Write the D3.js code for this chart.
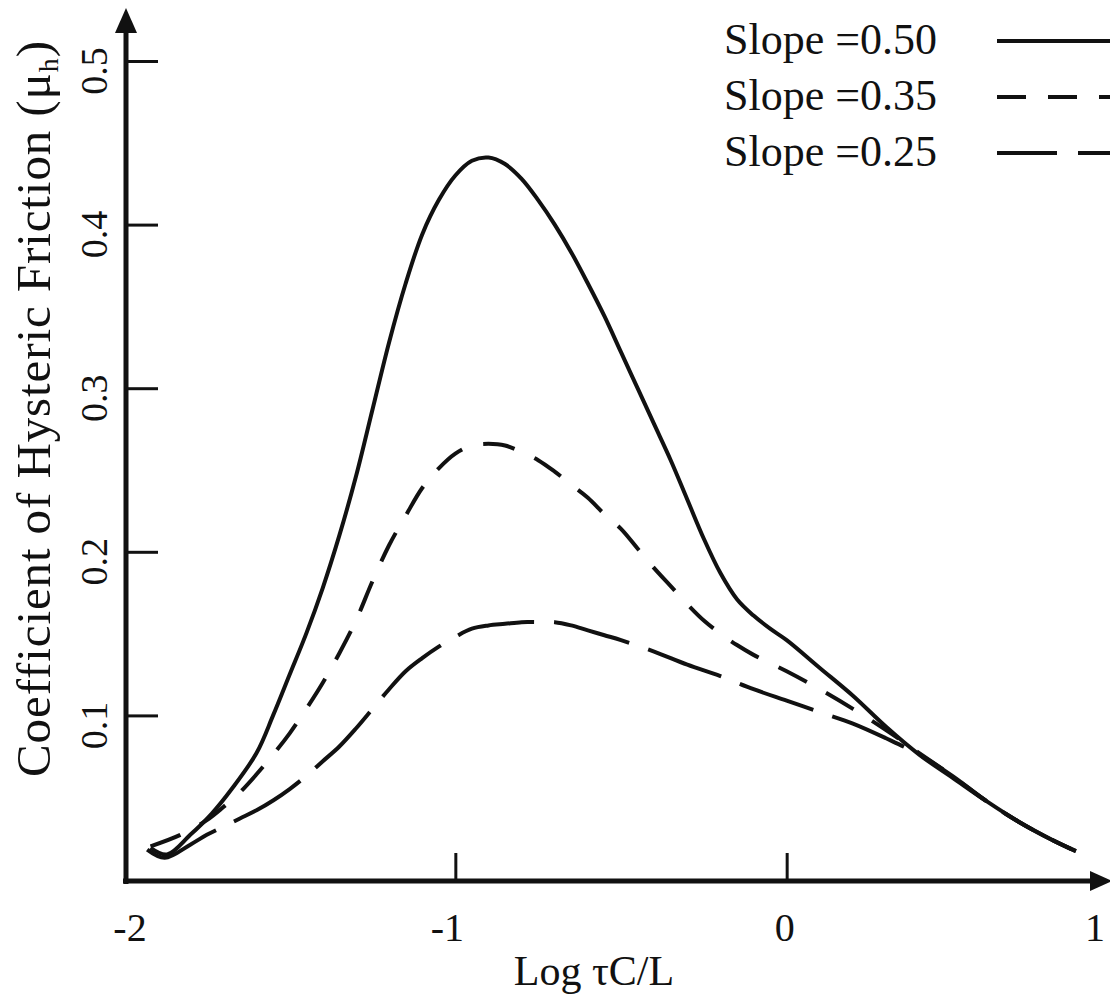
<!DOCTYPE html>
<html>
<head>
<meta charset="utf-8">
<script src="https://cdn.jsdelivr.net/npm/d3@7"></script>
<style>
  html, body { margin: 0; padding: 0; background: #fff; }
  svg { display: block; font-family: "Liberation Serif", "Times New Roman", serif; }
</style>
</head>
<body>
<svg id="chart" width="1110" height="996"></svg>
<script>
// values
const seriesNames = ["Slope =0.50", "Slope =0.35", "Slope =0.25"]

const solidX = [-1.92, -1.87, -1.80, -1.735, -1.675, -1.60, -1.55, -1.50, -1.45, -1.40, -1.35, -1.30, -1.25, -1.20, -1.15, -1.10, -1.05, -1.00, -0.95, -0.90, -0.85, -0.80, -0.75, -0.70, -0.65, -0.60, -0.55, -0.50, -0.45, -0.40, -0.35, -0.30, -0.25, -0.20, -0.15, -0.10, -0.05, 0.0, 0.1, 0.2, 0.3, 0.4, 0.5, 0.6, 0.7, 0.8, 0.873]
const solidY = [0.019, 0.015, 0.027, 0.040, 0.055, 0.077, 0.100, 0.125, 0.150, 0.178, 0.210, 0.246, 0.287, 0.328, 0.364, 0.394, 0.415, 0.430, 0.439, 0.441, 0.437, 0.428, 0.415, 0.400, 0.383, 0.364, 0.344, 0.322, 0.300, 0.278, 0.256, 0.232, 0.208, 0.187, 0.171, 0.161, 0.153, 0.146, 0.129, 0.112, 0.093, 0.076, 0.062, 0.048, 0.035, 0.024, 0.017]

const dashX = [-1.92, -1.83, -1.75, -1.70, -1.65, -1.60, -1.55, -1.50, -1.45, -1.40, -1.35, -1.30, -1.25, -1.20, -1.15, -1.10, -1.05, -1.00, -0.95, -0.90, -0.85, -0.80, -0.75, -0.70, -0.65, -0.60, -0.55, -0.50, -0.45, -0.40, -0.35, -0.30, -0.25, -0.20, -0.15, -0.10, 0.0, 0.1, 0.2, 0.3, 0.4, 0.5, 0.6, 0.7, 0.8, 0.873]
const dashY = [0.020, 0.027, 0.036, 0.044, 0.053, 0.064, 0.076, 0.089, 0.104, 0.120, 0.138, 0.158, 0.182, 0.204, 0.222, 0.239, 0.251, 0.260, 0.265, 0.266, 0.265, 0.261, 0.256, 0.249, 0.241, 0.233, 0.223, 0.214, 0.202, 0.190, 0.179, 0.168, 0.158, 0.150, 0.143, 0.137, 0.127, 0.116, 0.104, 0.091, 0.077, 0.063, 0.048, 0.035, 0.024, 0.017]

const longX = [-1.93, -1.877, -1.80, -1.75, -1.70, -1.65, -1.60, -1.55, -1.50, -1.45, -1.40, -1.35, -1.30, -1.25, -1.20, -1.15, -1.10, -1.05, -1.00, -0.95, -0.90, -0.85, -0.80, -0.75, -0.70, -0.65, -0.60, -0.55, -0.50, -0.40, -0.30, -0.20, -0.10, 0.0, 0.1, 0.2, 0.3, 0.4, 0.5, 0.6, 0.7, 0.8, 0.873]
const longY = [0.018, 0.013, 0.021, 0.027, 0.032, 0.037, 0.042, 0.048, 0.055, 0.063, 0.072, 0.081, 0.092, 0.104, 0.116, 0.127, 0.135, 0.142, 0.148, 0.153, 0.155, 0.156, 0.157, 0.157, 0.157, 0.155, 0.152, 0.149, 0.146, 0.139, 0.131, 0.124, 0.116, 0.109, 0.102, 0.095, 0.086, 0.076, 0.063, 0.048, 0.035, 0.024, 0.017]

const xTicks = [-2, -1, 0, 1]
const yTicks = [0.1, 0.2, 0.3, 0.4, 0.5]

const width = 1110, height = 996
const svg = d3.select("#chart")

const xScale = d3.scaleLinear().domain([-2, 1]).range([124, 1118])
const yScale = d3.scaleLinear().domain([0, 0.5]).range([879, 61])

const ink = "#111"
const axisY = 881   // x axis line
const axisX = 126   // y axis line

// axes lines with arrows
svg.append("line")
   .attr("x1", axisX).attr("y1", axisY + 3)
   .attr("x2", axisX).attr("y2", 28)
   .attr("stroke", ink).attr("stroke-width", 5)
svg.append("path")
   .attr("d", `M${axisX},8 L${axisX - 11},33 L${axisX + 11},33 Z`)
   .attr("fill", ink)
svg.append("line")
   .attr("x1", axisX - 3).attr("y1", axisY)
   .attr("x2", 1094).attr("y2", axisY)
   .attr("stroke", ink).attr("stroke-width", 5)
svg.append("path")
   .attr("d", `M1112,${axisY} L1090,${axisY - 10} L1090,${axisY + 10} Z`)
   .attr("fill", ink)

// y ticks pointing inwards
const yAxis = d3.axisRight(yScale).tickValues(yTicks).tickSize(32).tickFormat("")
const yAxisSVG = svg.append("g")
   .attr("transform", `translate(${axisX}, 0)`)
   .call(yAxis)
yAxisSVG.select(".domain").remove()
yAxisSVG.selectAll(".tick line").attr("stroke", ink).attr("stroke-width", 3)

// x ticks pointing up (only inner ones)
const xAxis = d3.axisTop(xScale).tickValues(xTicks.slice(1, -1)).tickSize(28).tickFormat("")
const xAxisSVG = svg.append("g")
   .attr("transform", `translate(0, ${axisY})`)
   .call(xAxis)
xAxisSVG.select(".domain").remove()
xAxisSVG.selectAll(".tick line").attr("stroke", ink).attr("stroke-width", 3)

// tick labels
svg.append("g").selectAll("text")
   .data(yTicks)
   .join("text")
   .attr("transform", d => `translate(107, ${yScale(d) + 10}) rotate(-90)`)
   .attr("text-anchor", "middle")
   .attr("font-size", 38)
   .attr("fill", ink)
   .text(d => d3.format(".1f")(d))

// small nudges so labels sit like the original (last one pulled in from the edge)
const xLabelShift = [6, -8, -2, 0]
svg.append("g").selectAll("text")
   .data(xTicks)
   .join("text")
   .attr("x", (d, i) => Math.min(xScale(d) + xLabelShift[i], 1095))
   .attr("y", 941)
   .attr("text-anchor", "middle")
   .attr("font-size", 40)
   .attr("fill", ink)
   .text(d => String(d))

// axis titles
svg.append("text")
   .attr("x", 594).attr("y", 985)
   .attr("text-anchor", "middle")
   .attr("font-size", 42)
   .attr("fill", ink)
   .text("Log τC/L")

const yTitle = svg.append("text")
   .attr("transform", "translate(50, 409) rotate(-90)")
   .attr("text-anchor", "middle")
   .attr("font-size", 49)
   .attr("textLength", 736)
   .attr("lengthAdjust", "spacing")
   .attr("fill", ink)
yTitle.append("tspan").text("Coefficient of Hysteric Friction (μ")
yTitle.append("tspan").attr("font-size", 28).attr("dy", 8).text("h")
yTitle.append("tspan").attr("dy", -8).text(")")

// curves
const line = d3.line()
   .x(d => xScale(d[0]))
   .y(d => yScale(d[1]))
   .curve(d3.curveCatmullRom.alpha(0.5))

const series = [
  {name: seriesNames[0], pts: d3.zip(solidX, solidY), dash: null, legendDash: null},
  {name: seriesNames[1], pts: d3.zip(dashX, dashY), dash: "32 22", legendDash: "29 22"},
  {name: seriesNames[2], pts: d3.zip(longX, longY), dash: "78 20", legendDash: "60 21"}
]

svg.append("g").selectAll("path")
   .data(series)
   .join("path")
   .attr("d", d => line(d.pts))
   .attr("fill", "none")
   .attr("stroke", ink)
   .attr("stroke-width", 4)
   .attr("stroke-linejoin", "round")
   .attr("stroke-dasharray", d => d.dash)

// legend
const legend = svg.append("g").selectAll("g")
   .data(series)
   .join("g")
   .attr("transform", (d, i) => `translate(0, ${41 + i * 56})`)
legend.append("text")
   .attr("x", 724).attr("y", 13)
   .attr("font-size", 44)
   .attr("fill", ink)
   .text(d => d.name)
legend.append("line")
   .attr("x1", 997).attr("x2", 1115)
   .attr("y1", 0).attr("y2", 0)
   .attr("stroke", ink)
   .attr("stroke-width", 4)
   .attr("stroke-dasharray", d => d.legendDash)
</script>
</body>
</html>
